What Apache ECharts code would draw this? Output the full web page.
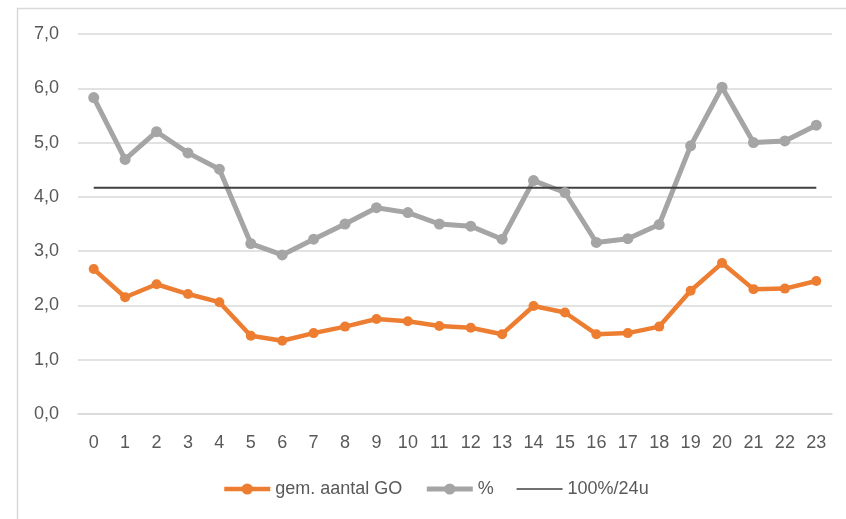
<!DOCTYPE html>
<html>
<head>
<meta charset="utf-8">
<script src="https://cdn.jsdelivr.net/npm/echarts@6/dist/echarts.min.js"></script>
<style>html,body{margin:0;padding:0;background:#fff}#c{width:846px;height:519px}</style>
</head>
<body>
<div id="c"></div>
<script>
const hours = ['0','1','2','3','4','5','6','7','8','9','10','11','12','13','14','15','16','17','18','19','20','21','22','23'];
const gemAantalGO = [2.67,2.15,2.39,2.21,2.06,1.44,1.35,1.49,1.61,1.75,1.71,1.62,1.59,1.47,1.99,1.87,1.47,1.49,1.61,2.27,2.78,2.30,2.31,2.45];
const percent = [5.83,4.69,5.20,4.81,4.51,3.14,2.93,3.22,3.50,3.80,3.71,3.50,3.46,3.22,4.30,4.08,3.16,3.23,3.49,4.94,6.02,5.00,5.03,5.32];
const reference = hours.map(() => 100/24);
const seriesNames = ['gem. aantal GO', '%', '100%/24u'];

const font = 'Liberation Sans';
const chart = echarts.init(document.getElementById('c'), null, {renderer: 'canvas'});
chart.setOption({
  animation: false,
  backgroundColor: '#fff',
  textStyle: {fontFamily: font},
  graphic: [{
    type: 'rect', left: 15, top: 6, z: -1,
    shape: {width: 1000, height: 1000},
    style: {fill: 'none', stroke: '#d9d9d9', lineWidth: 1.5}
  }],
  grid: {left: 78, right: 14, top: 34, bottom: 105},
  legend: {
    left: 217, top: 475,
    itemWidth: 46, itemHeight: 14, itemGap: 22,
    textStyle: {color: '#595959', fontSize: 18, fontFamily: font},
    data: [
      {name: seriesNames[0], lineStyle: {width: 4.5}},
      {name: seriesNames[1], lineStyle: {width: 5}},
      {name: seriesNames[2], lineStyle: {width: 1.5}, itemStyle: {opacity: 0}}
    ]
  },
  xAxis: {
    type: 'category', data: hours, boundaryGap: true,
    axisLine: {show: true, lineStyle: {color: '#d9d9d9', width: 1.5}},
    axisTick: {show: false},
    axisLabel: {color: '#595959', fontSize: 18, margin: 20, fontFamily: font}
  },
  yAxis: {
    type: 'value', min: 0, max: 7, interval: 1,
    axisLine: {show: false}, axisTick: {show: false},
    splitLine: {lineStyle: {color: '#d9d9d9', width: 1.5}},
    axisLabel: {color: '#595959', fontSize: 18, margin: 19, fontFamily: font,
      formatter: v => v.toFixed(1).replace('.', ',')}
  },
  series: [
    {name: seriesNames[0], type: 'line', data: gemAantalGO,
     symbol: 'circle', symbolSize: 10,
     itemStyle: {color: '#ED7D31'}, lineStyle: {color: '#ED7D31', width: 4.5}},
    {name: seriesNames[1], type: 'line', data: percent,
     symbol: 'circle', symbolSize: 11,
     itemStyle: {color: '#A5A5A5'}, lineStyle: {color: '#A5A5A5', width: 5}},
    {name: seriesNames[2], type: 'line', data: reference,
     symbol: 'none', itemStyle: {color: '#404040'},
     lineStyle: {color: '#404040', width: 2}}
  ]
});
</script>
</body>
</html>
